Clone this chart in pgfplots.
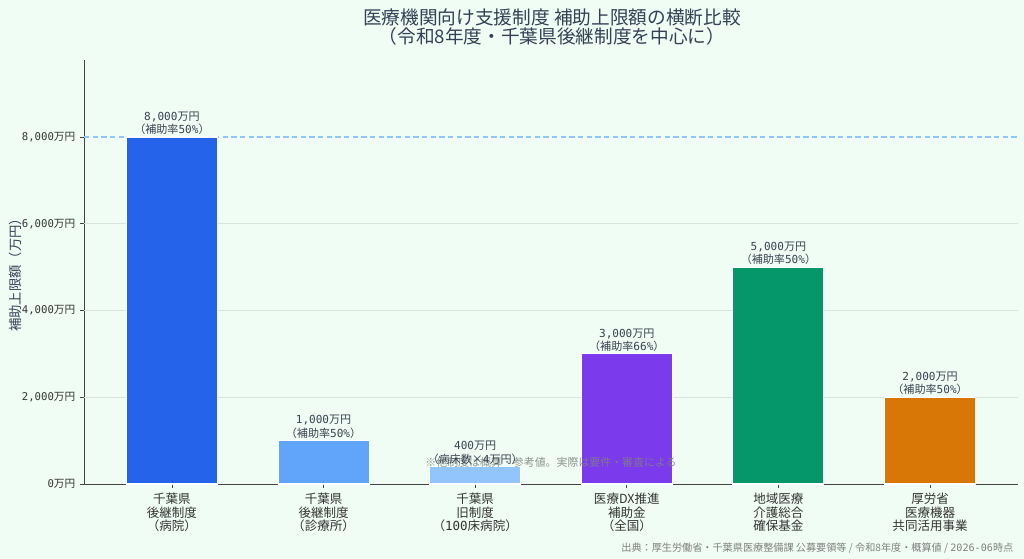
\documentclass[border=0pt]{standalone}
\usepackage{fontspec}
\setmainfont{Noto Sans CJK JP}
\setmonofont{DejaVu Sans Mono}
\usepackage{pgfplots}
\pgfplotsset{compat=1.18}
\definecolor{bg}{HTML}{F0FDF4}
\definecolor{titlec}{HTML}{334155}
\definecolor{txt}{HTML}{333333}
\definecolor{axc}{HTML}{444444}
\definecolor{lbl}{HTML}{374151}
\definecolor{gridc}{HTML}{D8E4DC}
\definecolor{cA}{HTML}{2563EB}
\definecolor{cB}{HTML}{60A5FA}
\definecolor{cC}{HTML}{93C5FD}
\definecolor{cD}{HTML}{7C3AED}
\definecolor{cE}{HTML}{059669}
\definecolor{cF}{HTML}{D97706}
\definecolor{dashc}{HTML}{93C5FD}
\newcommand{\n}[1]{{\ttfamily #1}}
\begin{document}
\begin{tikzpicture}[x=0.75pt,y=0.75pt]
\useasboundingbox (0,0) rectangle (1024,559);
\fill[bg] (0,0) rectangle (1024,559);
\node[font=\fontsize{14}{14.5}\selectfont, align=center, text=titlec] at (552,532) {医療機関向け支援制度\ 補助上限額の横断比較\\（令和8年度・千葉県後継制度を中心に）};
\node[rotate=90, font=\fontsize{10}{12}\selectfont, text=titlec] at (15,287) {補助上限額（万円）};
\begin{axis}[
  at={(63pt,56.25pt)}, anchor=south west,
  scale only axis, width=700.5pt, height=318pt,
  xmin=-0.58, xmax=5.58, ymin=0, ymax=9775,
  axis x line*=bottom, axis y line*=left,
  axis line style={axc, line width=0.7pt},
  tick align=outside, major tick length=3pt,
  tick style={axc, line width=0.6pt},
  ybar, bar shift=0pt, bar width=0.6,
  xtick={0,1,2,3,4,5},
  xticklabels={{千葉県\\後継制度\\（病院）},{千葉県\\後継制度\\（診療所）},{千葉県\\旧制度\\（\n{100}床病院）},{医療DX推進\\補助金\\（全国）},{地域医療\\介護総合\\確保基金},{厚労省\\医療機器\\共同活用事業}},
  xticklabel style={align=center, font=\fontsize{9.4}{10.4}\selectfont, text=txt},
  ytick={0,2000,4000,6000,8000},
  yticklabels={{\n{0}万円},{\n{2,000}万円},{\n{4,000}万円},{\n{6,000}万円},{\n{8,000}万円}},
  yticklabel style={font=\fontsize{8}{9}\selectfont, text=txt},
  extra y ticks={2000,4000,6000},
  extra y tick labels={},
  extra y tick style={grid=major, major tick length=0pt, grid style={gridc, line width=0.6pt}},
  nodes near coords align=vertical,
  every node near coord/.append style={align=center, font=\fontsize{8.3}{9.8}\selectfont, text=lbl, inner sep=1.5pt},
  clip=false,
]
\addplot[sharp plot, dashc, dash pattern=on 4pt off 2.5pt, line width=0.8pt, forget plot] coordinates {(-0.58,8000) (5.58,8000)};
\addplot[ybar, bar shift=0pt, fill=cA, draw=white, line width=0.8pt, nodes near coords={\n{8,000}万円\\（補助率\n{50\%}）}] coordinates {(0,8000)};
\addplot[ybar, bar shift=0pt, fill=cB, draw=white, line width=0.8pt, nodes near coords={\n{1,000}万円\\（補助率\n{50\%}）}] coordinates {(1,1000)};
\addplot[ybar, bar shift=0pt, fill=cC, draw=white, line width=0.8pt, nodes near coords={\n{400}万円\\（病床数×\n{4}万円）}] coordinates {(2,400)};
\addplot[ybar, bar shift=0pt, fill=cD, draw=white, line width=0.8pt, nodes near coords={\n{3,000}万円\\（補助率\n{66\%}）}] coordinates {(3,3000)};
\addplot[ybar, bar shift=0pt, fill=cE, draw=white, line width=0.8pt, nodes near coords={\n{5,000}万円\\（補助率\n{50\%}）}] coordinates {(4,5000)};
\addplot[ybar, bar shift=0pt, fill=cF, draw=white, line width=0.8pt, nodes near coords={\n{2,000}万円\\（補助率\n{50\%}）}] coordinates {(5,2000)};
\node[font=\fontsize{8.2}{9}\selectfont, text=gray, opacity=0.85] at (axis description cs:0.5,0.05) {※他制度は概算・参考値。実際は要件・審査による};
\end{axis}
\node[anchor=east, font=\fontsize{7.6}{8}\selectfont, text=gray] at (1018,11) {出典：厚生労働省・千葉県医療整備課\ 公募要領等\ /\ 令和8年度・概算値\ /\ \n{2026-06}時点};
\end{tikzpicture}
\end{document}
